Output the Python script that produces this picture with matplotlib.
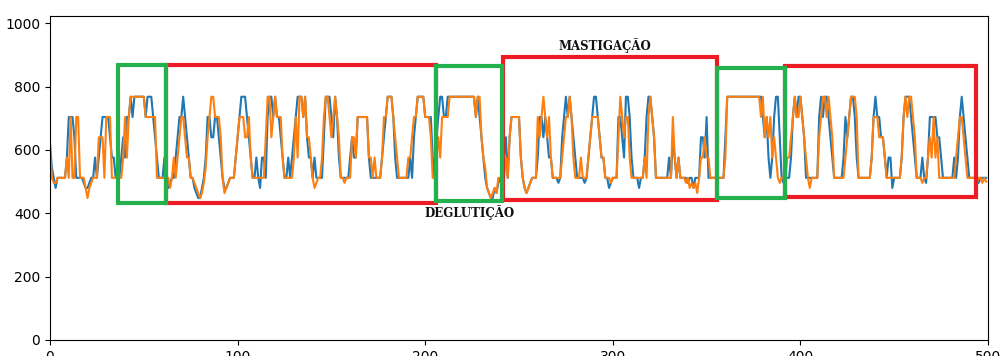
import numpy as np
import matplotlib
matplotlib.use("Agg")
import matplotlib.pyplot as plt
from matplotlib.patches import Rectangle

# Sensor readings (ADC counts), one sample per index
sensor_a = [
    620, 544, 512, 480, 512, 512, 512, 512, 512, 576, 704, 704, 704, 640, 512, 512, 512, 512, 496, 480,
    480, 496, 512, 512, 576, 512, 576, 640, 704, 704, 704, 704, 640, 576, 576, 512, 512, 512, 576, 640,
    576, 704, 704, 768, 704, 768, 768, 768, 768, 768, 768, 704, 768, 768, 768, 704, 640, 576, 512, 512,
    512, 576, 512, 480, 496, 512, 512, 576, 640, 704, 704, 768, 704, 640, 576, 512, 512, 480, 464, 448,
    448, 480, 512, 576, 704, 704, 640, 640, 704, 704, 640, 576, 512, 480, 480, 496, 512, 512, 512, 576,
    640, 704, 768, 768, 768, 704, 640, 576, 512, 512, 576, 512, 480, 576, 576, 512, 704, 768, 768, 704,
    768, 704, 704, 640, 576, 512, 512, 576, 512, 576, 640, 704, 768, 768, 768, 704, 768, 640, 576, 576,
    512, 576, 512, 512, 512, 512, 640, 768, 768, 768, 704, 640, 768, 704, 576, 512, 512, 512, 512, 512,
    576, 640, 576, 576, 704, 704, 704, 704, 704, 704, 576, 512, 512, 512, 512, 512, 512, 576, 640, 704,
    768, 768, 768, 704, 576, 512, 512, 512, 512, 512, 512, 512, 576, 512, 640, 704, 768, 768, 768, 768,
    704, 704, 704, 704, 576, 512, 640, 704, 768, 768, 704, 704, 768, 768, 768, 768, 768, 768, 768, 768,
    768, 768, 768, 768, 768, 768, 768, 704, 768, 704, 640, 576, 512, 480, 464, 448, 448, 480, 464, 496,
    512, 512, 576, 640, 512, 640, 704, 704, 704, 704, 704, 576, 512, 480, 464, 480, 496, 512, 512, 512,
    576, 704, 704, 640, 704, 640, 576, 576, 512, 512, 512, 496, 512, 640, 704, 768, 704, 768, 704, 640,
    576, 512, 512, 512, 512, 496, 512, 576, 640, 704, 768, 768, 704, 640, 576, 576, 512, 512, 480, 496,
    512, 512, 512, 704, 704, 640, 576, 768, 768, 704, 576, 512, 512, 512, 480, 512, 512, 576, 704, 768,
    768, 704, 640, 512, 512, 512, 512, 512, 512, 512, 576, 512, 640, 576, 512, 576, 512, 512, 512, 512,
    496, 512, 512, 480, 512, 512, 512, 640, 640, 576, 704, 512, 512, 512, 512, 512, 512, 512, 512, 512,
    640, 768, 768, 768, 768, 768, 768, 768, 768, 768, 768, 768, 768, 768, 768, 768, 768, 768, 768, 768,
    704, 640, 704, 576, 512, 576, 704, 768, 768, 640, 512, 496, 512, 512, 512, 576, 704, 768, 704, 768,
    768, 704, 640, 512, 512, 512, 512, 512, 512, 512, 704, 768, 704, 768, 768, 704, 640, 576, 512, 512,
    512, 512, 512, 576, 704, 640, 704, 768, 768, 704, 576, 512, 512, 512, 512, 512, 512, 512, 576, 704,
    768, 704, 704, 640, 640, 576, 512, 576, 576, 480, 512, 512, 512, 512, 576, 704, 768, 768, 768, 704,
    640, 576, 512, 512, 512, 576, 512, 496, 576, 704, 704, 704, 704, 640, 640, 576, 512, 512, 512, 512,
    512, 512, 576, 512, 576, 704, 768, 704, 640, 576, 512, 512, 512, 512, 512, 496, 512, 512, 512, 512,
]

sensor_b = [
    600, 512, 496, 496, 512, 512, 512, 512, 512, 576, 512, 704, 512, 512, 704, 704, 512, 512, 512, 480,
    448, 480, 496, 512, 512, 512, 640, 640, 640, 512, 704, 704, 704, 512, 512, 512, 512, 512, 512, 576,
    704, 576, 704, 768, 768, 768, 768, 768, 768, 768, 768, 704, 704, 704, 704, 704, 704, 512, 512, 512,
    512, 512, 512, 512, 480, 512, 576, 512, 576, 640, 704, 704, 640, 576, 576, 512, 512, 496, 480, 464,
    448, 464, 496, 544, 640, 704, 768, 768, 704, 704, 704, 640, 512, 464, 480, 496, 512, 512, 512, 576,
    640, 704, 704, 704, 640, 640, 704, 576, 512, 512, 512, 512, 512, 512, 512, 640, 768, 768, 640, 704,
    768, 704, 704, 704, 576, 512, 512, 512, 512, 512, 576, 704, 576, 768, 768, 704, 768, 640, 640, 576,
    512, 480, 496, 512, 512, 576, 704, 768, 768, 704, 640, 704, 768, 704, 640, 512, 512, 496, 512, 512,
    512, 640, 640, 576, 704, 704, 704, 704, 704, 704, 576, 576, 512, 576, 512, 512, 512, 576, 704, 704,
    768, 768, 768, 704, 640, 576, 512, 512, 512, 512, 512, 576, 576, 640, 704, 704, 768, 768, 768, 768,
    704, 704, 704, 640, 512, 512, 576, 640, 576, 704, 704, 704, 704, 768, 768, 768, 768, 768, 768, 768,
    768, 768, 768, 768, 768, 768, 768, 704, 768, 768, 640, 576, 544, 480, 464, 448, 464, 480, 464, 512,
    512, 512, 512, 576, 512, 640, 704, 704, 704, 704, 704, 576, 512, 480, 464, 480, 496, 512, 512, 512,
    704, 640, 704, 768, 704, 640, 704, 576, 512, 512, 512, 512, 512, 576, 640, 704, 704, 768, 704, 576,
    512, 512, 512, 576, 512, 512, 512, 576, 640, 704, 704, 704, 704, 640, 576, 576, 512, 512, 512, 496,
    512, 512, 512, 640, 768, 704, 640, 704, 704, 576, 512, 512, 512, 512, 512, 512, 512, 576, 512, 704,
    768, 704, 640, 512, 512, 512, 512, 512, 512, 512, 512, 512, 704, 576, 512, 576, 512, 512, 512, 496,
    512, 480, 496, 480, 496, 464, 512, 576, 576, 640, 576, 576, 512, 512, 512, 512, 512, 512, 512, 512,
    576, 768, 768, 768, 768, 768, 768, 768, 768, 768, 768, 768, 768, 768, 768, 768, 768, 768, 768, 704,
    768, 640, 704, 640, 704, 576, 640, 576, 512, 496, 512, 512, 512, 576, 576, 640, 704, 768, 704, 704,
    768, 704, 640, 576, 512, 480, 512, 512, 512, 512, 640, 704, 768, 768, 704, 768, 704, 640, 512, 512,
    512, 512, 512, 512, 576, 640, 704, 768, 768, 768, 704, 512, 512, 512, 512, 512, 512, 512, 576, 704,
    704, 704, 640, 640, 640, 576, 512, 512, 512, 512, 512, 512, 512, 512, 576, 704, 768, 704, 768, 768,
    704, 640, 512, 512, 512, 496, 512, 512, 576, 640, 576, 704, 576, 640, 512, 512, 512, 512, 512, 512,
    512, 512, 512, 576, 640, 704, 704, 640, 576, 512, 512, 512, 512, 512, 496, 512, 512, 496, 512, 500,
]

# Phase annotations: (x_start, x_end, y_bottom, y_top)
swallow_boxes = [(36.2, 62.0, 431, 869), (205.6, 241.2, 438, 866), (355.7, 392.0, 447, 858)]
chew_boxes = [(62.0, 205.6, 431, 868), (241.5, 355.7, 441, 894), (392.0, 493.8, 453, 864)]

labels = [("MASTIGAÇÃO", 295.5, 931), ("DEGLUTIÇÃO", 223.5, 401)]

assert len(sensor_a) == 500 and len(sensor_b) == 500

fig = plt.figure(figsize=(10, 3.56), dpi=100)
ax = fig.add_axes([0.05, 0.045, 0.938, 0.911])

ax.plot(np.arange(len(sensor_a)), sensor_a, color="C0", lw=1.5)
ax.plot(np.arange(len(sensor_b)), sensor_b, color="C1", lw=1.5)

ax.set_xlim(0, 500)
ax.set_ylim(0, 1024)

for x0, x1, y0, y1 in chew_boxes:
    ax.add_patch(Rectangle((x0, y0), x1 - x0, y1 - y0, fill=False,
                           edgecolor="#ed1c24", lw=3, zorder=3))
for x0, x1, y0, y1 in swallow_boxes:
    ax.add_patch(Rectangle((x0, y0), x1 - x0, y1 - y0, fill=False,
                           edgecolor="#22b14c", lw=3, zorder=4))

for text, x, y in labels:
    ax.text(x, y, text, ha="center", va="center", fontsize=8.5,
            fontweight="bold", family="DejaVu Serif", color="#111111", zorder=5)

fig.savefig("out.png", dpi=100)
